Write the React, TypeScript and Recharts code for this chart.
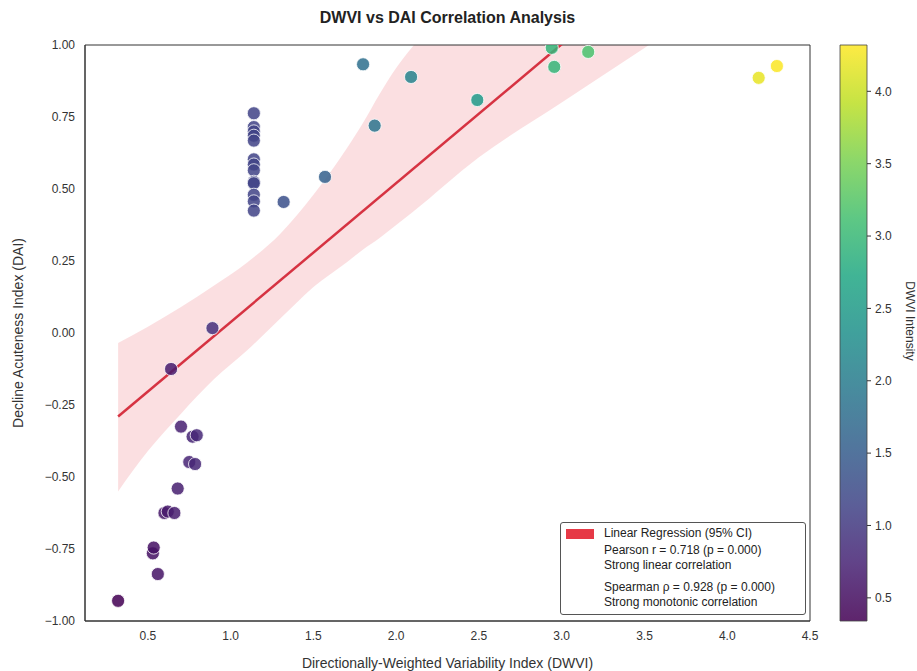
import React from 'react'
import {
  ComposedChart, Scatter, Line, Area, XAxis, YAxis, ZAxis,
  Cell, ReferenceArea, Label,
} from 'recharts'

// ── data ─────────────────────────────────────────────────────────────────────

// observed points (DWVI, DAI)
const dwvi = [
  0.32, 0.56, 0.53, 0.535, 0.60, 0.62, 0.66, 0.68, 0.75, 0.785, 0.70, 0.77, 0.795, 0.64, 0.89,
  1.14, 1.14, 1.14, 1.14, 1.14, 1.14, 1.14, 1.14, 1.14, 1.14, 1.14, 1.14, 1.14,
  1.32, 1.57, 1.80, 1.87, 2.09, 2.49, 2.94, 2.955, 3.16, 4.19, 4.30,
]
const dai = [
  -0.93, -0.837, -0.765, -0.745, -0.625, -0.62, -0.625, -0.54, -0.448, -0.455, -0.325, -0.36, -0.355, -0.125, 0.017,
  0.763, 0.715, 0.70, 0.685, 0.668, 0.603, 0.585, 0.565, 0.525, 0.52, 0.48, 0.457, 0.425,
  0.455, 0.542, 0.933, 0.72, 0.889, 0.809, 0.99, 0.924, 0.976, 0.886, 0.927,
]

// fitted regression line, end points
const regX = [0.32, 4.30]
const regY = [-0.29, 1.63]

// 95% CI band edges
const bandX  = [0.32, 0.5, 0.7, 0.9, 1.1, 1.3, 1.5, 1.7, 1.8, 1.9, 2.0, 2.1, 2.5, 3.0, 3.5, 4.3]
const bandLo = [-0.55, -0.41, -0.28, -0.16, -0.06, 0.05, 0.16, 0.245, 0.29, 0.33, 0.375, 0.42, 0.61, 0.80, 0.99, 1.28]
const bandHi = [-0.035, 0.022, 0.09, 0.165, 0.245, 0.345, 0.48, 0.64, 0.73, 0.83, 0.92, 0.995, 1.2, 1.45, 1.7, 2.1]

const xTicks = [0.5, 1.0, 1.5, 2.0, 2.5, 3.0, 3.5, 4.0, 4.5]
const yTicks = [-1, -0.75, -0.5, -0.25, 0, 0.25, 0.5, 0.75, 1]
const cbarTicks = [0.5, 1.0, 1.5, 2.0, 2.5, 3.0, 3.5, 4.0]
const cbarRange = [0.34, 4.32]

const legendLines = [
  'Linear Regression (95% CI)',
  'Pearson r = 0.718 (p = 0.000)',
  'Strong linear correlation',
  'Spearman ρ = 0.928 (p = 0.000)',
  'Strong monotonic correlation',
]

// viridis colormap stops
const VIRIDIS = [
  '#440154', '#482475', '#414487', '#355f8d', '#2a788e',
  '#21918c', '#22a884', '#44bf70', '#7ad151', '#bddf26', '#fde725',
]

const FONT = '"Liberation Sans", Arial, Helvetica, sans-serif'
const RED = '#e63946'
const TEXT = '#333'

function hexToRgb(h: string) {
  const n = parseInt(h.slice(1), 16)
  return [(n >> 16) & 255, (n >> 8) & 255, n & 255]
}

function viridis(v: number) {
  const t = Math.min(1, Math.max(0, (v - cbarRange[0]) / (cbarRange[1] - cbarRange[0])))
  const p = t * (VIRIDIS.length - 1)
  const i = Math.min(VIRIDIS.length - 2, Math.floor(p))
  const f = p - i
  const a = hexToRgb(VIRIDIS[i])
  const b = hexToRgb(VIRIDIS[i + 1])
  const c = a.map((ch, k) => Math.round(ch + (b[k] - ch) * f))
  return `rgb(${c[0]},${c[1]},${c[2]})`
}

const fmtMinus = (s: string) => s.replace('-', '\u2212')

const points = dwvi.map((x, i) => ({ x, y: dai[i] }))
const regLine = regX.map((x, i) => ({ x, y: regY[i] }))
const band = bandX.map((x, i) => ({ x, band: [bandLo[i], bandHi[i]] }))

// ── axis titles ──────────────────────────────────────────────────────────────

function YTitle({ viewBox }: any) {
  const { x, y, height } = viewBox
  const cx = x + 18
  const cy = y + height / 2
  return (
    <text x={cx} y={cy} transform={`rotate(-90 ${cx} ${cy})`} textAnchor="middle"
      dominantBaseline="central" fontSize={14} fill={TEXT} fontFamily={FONT}>
      Decline Acuteness Index (DAI)
    </text>
  )
}

function XTitle({ viewBox }: any) {
  const { x, y, width } = viewBox
  return (
    <text x={x + width / 2} y={y + 42} textAnchor="middle" dominantBaseline="central"
      fontSize={14} fill={TEXT} fontFamily={FONT}>
      Directionally-Weighted Variability Index (DWVI)
    </text>
  )
}

function CbarTitle({ viewBox }: any) {
  const { x, y, height } = viewBox
  const cx = x + 43
  const cy = y + height / 2 - 12
  return (
    <text x={cx} y={cy} transform={`rotate(90 ${cx} ${cy})`} textAnchor="middle"
      dominantBaseline="central" fontSize={12} fill={TEXT} fontFamily={FONT}>
      DWVI Intensity
    </text>
  )
}

// ── chart ────────────────────────────────────────────────────────────────────

export default function App() {
  const tick = { fill: TEXT, fontSize: 12, fontFamily: FONT }
  return (
    <div style={{ position: 'absolute', left: 0, top: 0, width: 917, height: 671, background: '#fff', fontFamily: FONT }}>
      <div style={{
        position: 'absolute', left: 85, width: 725, top: 9, textAlign: 'center',
        fontSize: 16, fontWeight: 'bold', color: '#222',
      }}>
        DWVI vs DAI Correlation Analysis
      </div>

      <div style={{ position: 'absolute', left: 0, top: 0 }}>
        <ComposedChart width={830} height={671} margin={{ top: 45, right: 20, bottom: 0, left: 0 }}>
          <XAxis
            type="number" dataKey="x" domain={[0.12, 4.5]} ticks={xTicks} allowDataOverflow
            tickFormatter={(v) => v.toFixed(1)} tick={tick} tickLine={false} tickSize={6} tickMargin={4}
            axisLine={{ stroke: '#333' }} height={50}
          >
            <Label content={<XTitle />} />
          </XAxis>
          <YAxis
            type="number" dataKey="y" domain={[-1, 1]} ticks={yTicks} allowDataOverflow
            tickFormatter={(v) => fmtMinus(v.toFixed(2))} tick={tick} tickLine={false} tickSize={6} tickMargin={4}
            axisLine={{ stroke: '#333' }} width={85}
          >
            <Label content={<YTitle />} />
          </YAxis>
          <ZAxis range={[135, 135]} />

          <Area
            data={band} dataKey="band" type="monotone" stroke="none"
            fill={RED} fillOpacity={0.16} isAnimationActive={false}
          />
          <Scatter data={points} isAnimationActive={false} stroke="#fff" strokeWidth={0.8}>
            {points.map((p, i) => (
              <Cell key={i} fill={viridis(p.x)} fillOpacity={0.86} />
            ))}
          </Scatter>
          <Line
            data={regLine} dataKey="y" type="linear" stroke="#d63342" strokeWidth={2.5}
            dot={false} activeDot={false} isAnimationActive={false}
          />
          <ReferenceArea x1={0.12} x2={4.5} y1={-1} y2={1} fill="none" stroke="#333" strokeWidth={1} />
        </ComposedChart>
      </div>

      {/* colour bar */}
      <div style={{ position: 'absolute', left: 830, top: 0 }}>
        <ComposedChart width={87} height={671} data={[{ x: 0 }, { x: 1 }]}
          margin={{ top: 45, right: 0, bottom: 50, left: 10 }}>
          <defs>
            <linearGradient id="viridis-grad" x1="0" y1="1" x2="0" y2="0">
              {VIRIDIS.map((c, i) => (
                <stop key={i} offset={`${(i / (VIRIDIS.length - 1)) * 100}%`} stopColor={c} stopOpacity={0.86} />
              ))}
            </linearGradient>
          </defs>
          <XAxis type="number" dataKey="x" domain={[0, 1]} hide />
          <YAxis
            orientation="right" type="number" domain={cbarRange} ticks={cbarTicks} allowDataOverflow
            tickFormatter={(v) => v.toFixed(1)} tick={tick} tickSize={4} tickMargin={4}
            tickLine={{ stroke: '#333' }} axisLine={false} width={50}
          >
            <Label content={<CbarTitle />} />
          </YAxis>
          <ReferenceArea y1={cbarRange[0]} y2={cbarRange[1]} fill="url(#viridis-grad)" fillOpacity={1}
            stroke="#444" strokeWidth={0.8} />
        </ComposedChart>
      </div>

      {/* legend */}
      <div style={{
        position: 'absolute', left: 560, top: 522, width: 244, height: 91,
        border: '1px solid #555', borderRadius: 3, background: 'rgba(255,255,255,0.9)',
        fontSize: 12, color: '#222', lineHeight: '15px',
      }}>
        <div style={{ position: 'absolute', left: 5, top: 6, width: 28, height: 10, background: RED }} />
        <div style={{ position: 'absolute', left: 43, top: 3 }}>{legendLines[0]}</div>
        <div style={{ position: 'absolute', left: 43, top: 20 }}>
          <div>{legendLines[1]}</div>
          <div>{legendLines[2]}</div>
        </div>
        <div style={{ position: 'absolute', left: 43, top: 57 }}>
          <div>{legendLines[3]}</div>
          <div>{legendLines[4]}</div>
        </div>
      </div>
    </div>
  )
}
